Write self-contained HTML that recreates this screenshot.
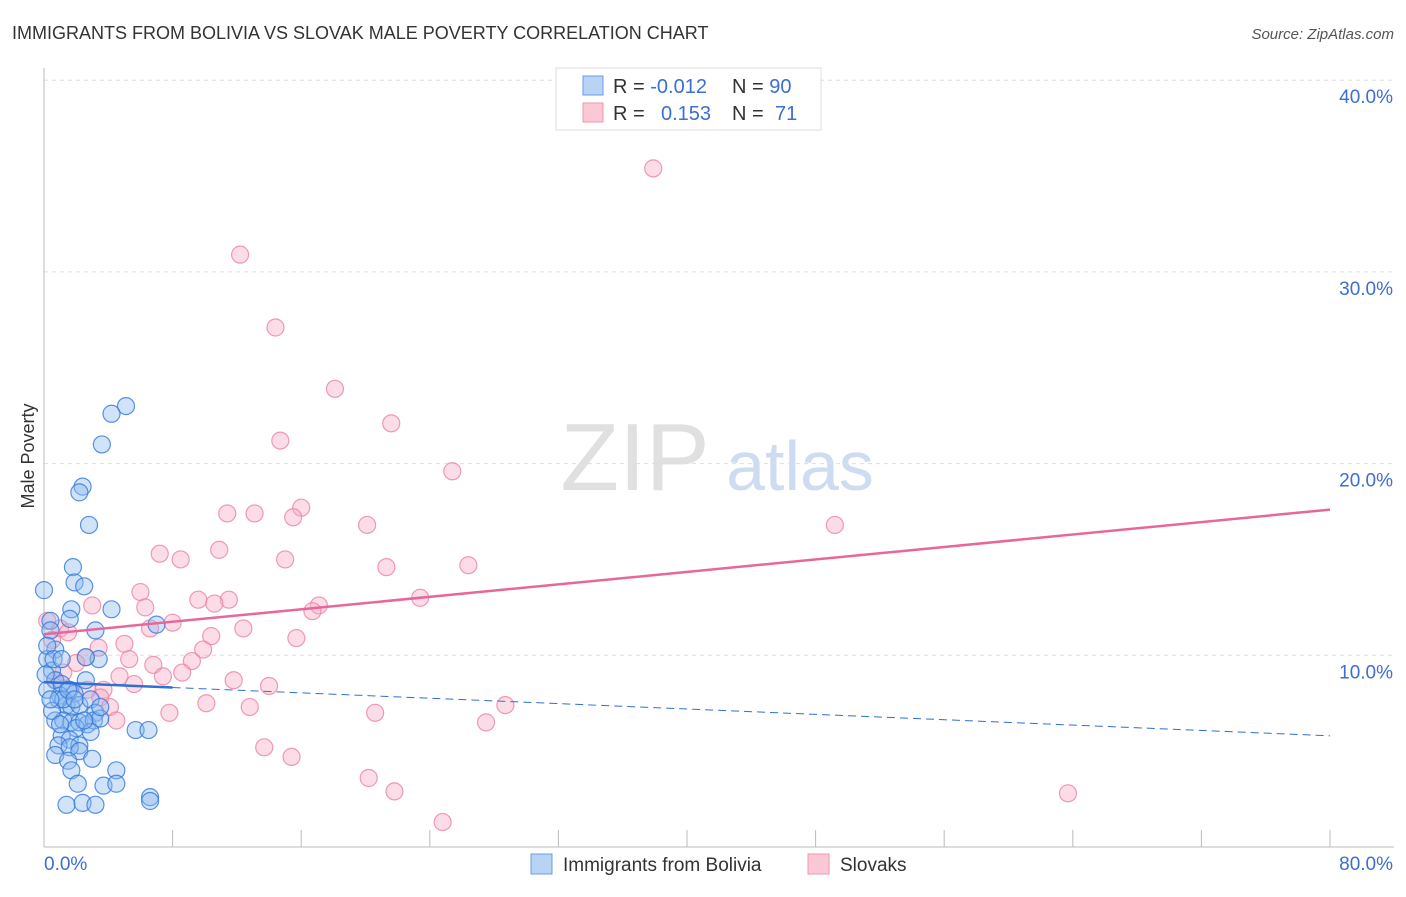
<!DOCTYPE html>
<html><head><meta charset="utf-8"><style>
body{margin:0;background:#fff;font-family:"Liberation Sans",sans-serif;}
svg text{font-family:"Liberation Sans",sans-serif;}
</style></head><body>
<svg id="chart" width="1406" height="892" xmlns="http://www.w3.org/2000/svg">
<text x="12" y="39" font-size="18" fill="#333">IMMIGRANTS FROM BOLIVIA VS SLOVAK MALE POVERTY CORRELATION CHART</text>
<text x="1394" y="39" font-size="15" fill="#555" text-anchor="end" font-style="italic">Source: ZipAtlas.com</text>
<text x="34" y="456" font-size="18" fill="#333" text-anchor="middle" transform="rotate(-90 34 456)">Male Poverty</text>
<g opacity="0.9">
<text x="635" y="490" font-size="96" fill="#ddd" font-family="Liberation Serif" text-anchor="middle">ZIP</text>
<text x="800" y="490" font-size="70" fill="#c9d9f0" text-anchor="middle">atlas</text>
</g>
<g id="grid"></g><g id="axes"></g><g id="pts"></g><g id="trends"></g>
<g>
<rect x="556" y="68" width="265" height="62" fill="#fff" stroke="#ddd"/>
<rect x="583" y="76" width="20" height="19" fill="#b9d3f5" stroke="#6a9be0"/>
<rect x="583" y="103" width="20" height="19" fill="#fcc8d6" stroke="#ee95ae"/>
<text x="613" y="93" font-size="20" fill="#333">R = <tspan fill="#3b6fd1">-0.012</tspan></text>
<text x="732" y="93" font-size="20" fill="#333">N = <tspan fill="#3b6fd1">90</tspan></text>
<text x="613" y="120" font-size="20" fill="#333">R = <tspan fill="#3b6fd1" x="661">0.153</tspan></text>
<text x="732" y="120" font-size="20" fill="#333">N = <tspan fill="#3b6fd1" x="775">71</tspan></text>
</g>
<g>
<rect x="531" y="854" width="21" height="20" fill="#b9d3f5" stroke="#6a9be0"/>
<text x="563" y="871" font-size="19" fill="#333">Immigrants from Bolivia</text>
<rect x="808" y="854" width="21" height="20" fill="#fcc8d6" stroke="#ee95ae"/>
<text x="840" y="871" font-size="19" fill="#333">Slovaks</text>
</g>
</svg>
<script>
const blueX=[0.0,5.1,4.2,3.6,2.4,2.2,2.8,1.8,1.9,2.5,1.7,4.2,1.6,7.0,3.2,0.4,0.7,0.2,3.4,2.6,0.5,0.7,0.2,1.1,1.6,1.0,1.9,2.6,1.4,1.7,2.2,2.9,3.2,0.7,1.2,1.7,2.2,2.7,3.1,3.5,2.0,1.1,1.6,2.2,2.9,0.9,1.6,2.2,3.0,0.7,1.5,1.7,4.5,3.7,4.5,2.1,1.4,2.4,3.2,6.6,6.6,5.7,6.5,0.4,0.2,0.6,0.1,0.9,1.2,0.5,1.0,2.5,3.5,1.1,1.5,1.9,0.4];
const blueY=[13.4,23.0,22.6,21.0,18.8,18.5,16.8,14.6,13.8,13.6,12.4,12.4,11.9,11.6,11.3,11.8,10.3,9.8,9.8,9.9,9.2,8.7,8.2,8.5,8.2,7.9,8.0,8.7,7.4,7.3,7.4,7.7,7.0,6.6,6.6,6.5,6.5,6.4,6.6,6.7,6.2,5.8,5.6,5.3,6.0,5.3,5.2,5.0,4.6,4.8,4.5,4.0,4.0,3.2,3.3,3.3,2.2,2.3,2.2,2.6,2.4,6.1,6.1,11.3,10.5,9.8,9.0,7.7,7.7,7.1,6.4,6.6,7.3,9.8,8.2,7.7,7.7];
const pinkX=[37.9,12.2,14.4,18.1,21.6,14.7,25.4,16.0,15.5,11.4,13.1,20.1,49.2,7.2,8.5,10.9,15.0,21.3,26.4,6.0,9.6,11.5,10.6,23.4,17.1,16.7,3.0,6.3,8.0,6.6,12.4,10.4,15.7,5.0,3.4,9.9,2.6,1.0,1.5,5.3,2.0,6.8,9.2,8.6,7.4,4.7,11.8,14.0,5.6,3.7,0.7,3.5,10.1,12.8,4.1,7.8,20.6,28.7,27.5,4.5,13.7,15.4,20.2,21.8,63.7,24.8,0.2,0.5,1.2,2.7];
const pinkY=[35.4,30.9,27.1,23.9,22.1,21.2,19.6,17.7,17.2,17.4,17.4,16.8,16.8,15.3,15.0,15.5,15.0,14.6,14.7,13.3,12.9,12.9,12.7,13.0,12.6,12.3,12.6,12.5,11.7,11.4,11.4,11.0,10.9,10.6,10.4,10.3,9.9,11.4,11.2,9.8,9.6,9.5,9.7,9.1,8.9,8.9,8.7,8.4,8.5,8.2,8.7,7.8,7.5,7.3,7.3,7.0,7.0,7.4,6.5,6.6,5.2,4.7,3.6,2.9,2.8,1.3,11.8,10.8,9.1,8.2];
const yTicks=[10,20,30,40];
const yTickLabels=["10.0%","20.0%","30.0%","40.0%"];
const blueTrend=[8.6,5.8];const pinkTrend=[11.1,17.6];
const NS="http://www.w3.org/2000/svg";
const sx=v=>44+v*(1286/80), sy=v=>847-v*19.17;
function mk(t,a,p){const e=document.createElementNS(NS,t);for(const k in a)e.setAttribute(k,a[k]);p.appendChild(e);return e;}
const grid=document.getElementById('grid'),axes=document.getElementById('axes'),pts=document.getElementById('pts'),tr=document.getElementById('trends');
yTicks.forEach((t,i)=>{const l=mk('line',{x1:44,x2:1394,y1:sy(t),y2:sy(t),stroke:'#ddd','stroke-dasharray':'4 4'},grid);


const tx=mk('text',{x:1393,y:sy(t)+23,'font-size':19,fill:'#3b6fd1','text-anchor':'end'},axes);tx.textContent=yTickLabels[i];

});
const ax=mk('line',{x1:44,x2:1394,y1:847,y2:847,stroke:'#bbb'},axes);


const ay=mk('line',{x1:44,x2:44,y1:68,y2:847,stroke:'#bbb'},axes);


for(let i=0;i<=10;i++){const tk=mk('line',{x1:sx(i*8),x2:sx(i*8),y1:830,y2:847,stroke:'#bbb'},axes);

}
const x0=mk('text',{x:44,y:870,'font-size':19,fill:'#3b6fd1'},axes);x0.textContent='0.0%';


const x1=mk('text',{x:1393,y:870,'font-size':19,fill:'#3b6fd1','text-anchor':'end'},axes);x1.textContent='80.0%';


pinkX.forEach((x,i)=>{const c=mk('circle',{cx:sx(x),cy:sy(pinkY[i]),r:8.5,fill:'rgba(248,170,195,0.4)',stroke:'rgba(235,130,160,0.8)','stroke-width':1.2},pts);

});
blueX.forEach((x,i)=>{const c=mk('circle',{cx:sx(x),cy:sy(blueY[i]),r:8.5,fill:'rgba(140,185,240,0.4)',stroke:'rgba(50,120,220,0.8)','stroke-width':1.2},pts);

});
const pl=mk('line',{x1:sx(0),x2:sx(80),y1:sy(pinkTrend[0]),y2:sy(pinkTrend[1]),stroke:'#e8679a','stroke-width':2.5},tr);


const bAt=x=>blueTrend[0]+(blueTrend[1]-blueTrend[0])*x/80;
const bs=mk('line',{x1:sx(0),x2:sx(8),y1:sy(bAt(0)),y2:sy(bAt(8)),stroke:'#2f6fd6','stroke-width':2.5},tr);


const bd=mk('line',{x1:sx(8),x2:sx(80),y1:sy(bAt(8)),y2:sy(bAt(80)),stroke:'#2f6fd6','stroke-width':1,'stroke-dasharray':'8 5'},tr);


</script>
</body></html>
